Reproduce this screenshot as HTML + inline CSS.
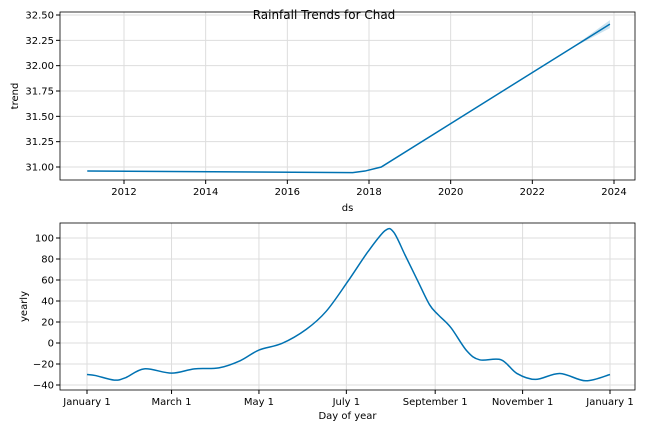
<!DOCTYPE html>
<html><head><meta charset="utf-8"><style>
body{margin:0;background:#fff}
svg{display:block;font-family:"DejaVu Sans","Liberation Sans",sans-serif}
</style></head><body>
<svg id="c" width="648" height="432"></svg>
<script>
const trendYears=[2011.1,2017.6,2017.9,2018.3,2023.9];
const trendValues=[30.96,30.945,30.96,31.0,32.41];
const trendTicksX=[2012,2014,2016,2018,2020,2022,2024];
const trendTicksY=[31.00,31.25,31.50,31.75,32.00,32.25,32.50];
const yearlyDays=[0,6,19,27,40,59,75,92,107,120,136,153,167,182,196,208,214,222,231,239,245,254,265,274,289,300,313,330,348,365];
const yearlyValues=[-30,-31,-35.3,-33,-24.6,-28.7,-24.6,-23.7,-16.8,-6.7,-0.4,13,30.3,58.6,86.8,107,105.6,83.7,58.6,36.6,27,14.6,-7.4,-16,-16,-29,-34.7,-29,-36,-30];
const monthLabels=["January 1","March 1","May 1","July 1","September 1","November 1","January 1"];
const monthDays=[0,59,120,181,243,304,365];
const yearlyTicksY=[-40,-20,0,20,40,60,80,100];

const NS="http://www.w3.org/2000/svg",svg=document.getElementById('c');
function el(t,a,txt){const e=document.createElementNS(NS,t);for(const k in a)e.setAttribute(k,a[k]);if(txt!=null)e.textContent=txt;svg.appendChild(e);return e;}
function spline(pts){let d=`M${pts[0][0]},${pts[0][1]}`;for(let i=0;i<pts.length-1;i++){const p0=pts[i-1]||pts[i],p1=pts[i],p2=pts[i+1],p3=pts[i+2]||p2;
d+=`C${p1[0]+(p2[0]-p0[0])/6},${p1[1]+(p2[1]-p0[1])/6} ${p2[0]-(p3[0]-p1[0])/6},${p2[1]-(p3[1]-p1[1])/6} ${p2[0]},${p2[1]}`;}return d;}

// top panel
const T={l:60,r:635,t:12,b:180};
const tx=v=>124+(v-2012)*(614-124)/12, ty=v=>167-(v-31)*(167-15)/1.5;
trendTicksX.forEach(v=>{let g=el('line',{x1:tx(v),x2:tx(v),y1:T.t,y2:T.b,stroke:'#ddd','stroke-width':1});

el('line',{x1:tx(v),x2:tx(v),y1:T.b,y2:T.b+4,stroke:'#000'});
let t=el('text',{x:tx(v),y:T.b+15,'font-size':10,'text-anchor':'middle'},v);
});
trendTicksY.forEach(v=>{el('line',{x1:T.l,x2:T.r,y1:ty(v),y2:ty(v),stroke:'#ddd'});
el('line',{x1:T.l-4,x2:T.l,y1:ty(v),y2:ty(v),stroke:'#000'});
let t=el('text',{x:T.l-6,y:ty(v)+3.5,'font-size':10,'text-anchor':'end'},v.toFixed(2));
});
// uncertainty band
const bandY0=2022.9,last=trendYears.length-1;
const bv=y=>trendValues[last-1]+(y-trendYears[last-1])*(trendValues[last]-trendValues[last-1])/(trendYears[last]-trendYears[last-1]);
const w=y=>0.04*(y-bandY0)/(trendYears[last]-bandY0);
let bp=`M${tx(bandY0)},${ty(bv(bandY0))}L${tx(trendYears[last])},${ty(bv(trendYears[last])+w(trendYears[last]))}L${tx(trendYears[last])},${ty(bv(trendYears[last])-w(trendYears[last]))}Z`;
let band=el('path',{d:bp,fill:'#0072B2','fill-opacity':0.2});

let tl=el('polyline',{points:trendYears.map((y,i)=>tx(y)+','+ty(trendValues[i])).join(' '),fill:'none',stroke:'#0072B2','stroke-width':1.5});

el('rect',{x:T.l,y:T.t,width:T.r-T.l,height:T.b-T.t,fill:'none',stroke:'#000','stroke-width':0.8});
el('text',{x:(T.l+T.r)/2,y:211,'font-size':10,'text-anchor':'middle'},'ds');
el('text',{x:0,y:0,'font-size':10,'text-anchor':'middle',transform:`translate(18,${(T.t+T.b)/2}) rotate(-90)`},'trend');
el('text',{x:324,y:19,'font-size':12,'text-anchor':'middle'},'Rainfall Trends for Chad');

// bottom panel
const B={l:60,r:635,t:223,b:390};
const bx=d=>87+d*(610-87)/365, by=v=>238+(100-v)*(385-238)/140;
monthDays.forEach((d,i)=>{el('line',{x1:bx(d),x2:bx(d),y1:B.t,y2:B.b,stroke:'#ddd'});
el('line',{x1:bx(d),x2:bx(d),y1:B.b,y2:B.b+4,stroke:'#000'});
let t=el('text',{x:bx(d),y:B.b+15,'font-size':10,'text-anchor':'middle'},monthLabels[i]);
});
yearlyTicksY.forEach(v=>{el('line',{x1:B.l,x2:B.r,y1:by(v),y2:by(v),stroke:'#ddd'});
el('line',{x1:B.l-4,x2:B.l,y1:by(v),y2:by(v),stroke:'#000'});
let t=el('text',{x:B.l-6,y:by(v)+3.5,'font-size':10,'text-anchor':'end'},v<0?'\u2212'+(-v):v);
});
let yl=el('path',{d:spline(yearlyDays.map((d,i)=>[bx(d),by(yearlyValues[i])])),fill:'none',stroke:'#0072B2','stroke-width':1.5});

el('rect',{x:B.l,y:B.t,width:B.r-B.l,height:B.b-B.t,fill:'none',stroke:'#000','stroke-width':0.8});
el('text',{x:(B.l+B.r)/2,y:419,'font-size':10,'text-anchor':'middle'},'Day of year');
el('text',{x:0,y:0,'font-size':10,'text-anchor':'middle',transform:`translate(27,${(B.t+B.b)/2}) rotate(-90)`},'yearly');
</script>
</body></html>
